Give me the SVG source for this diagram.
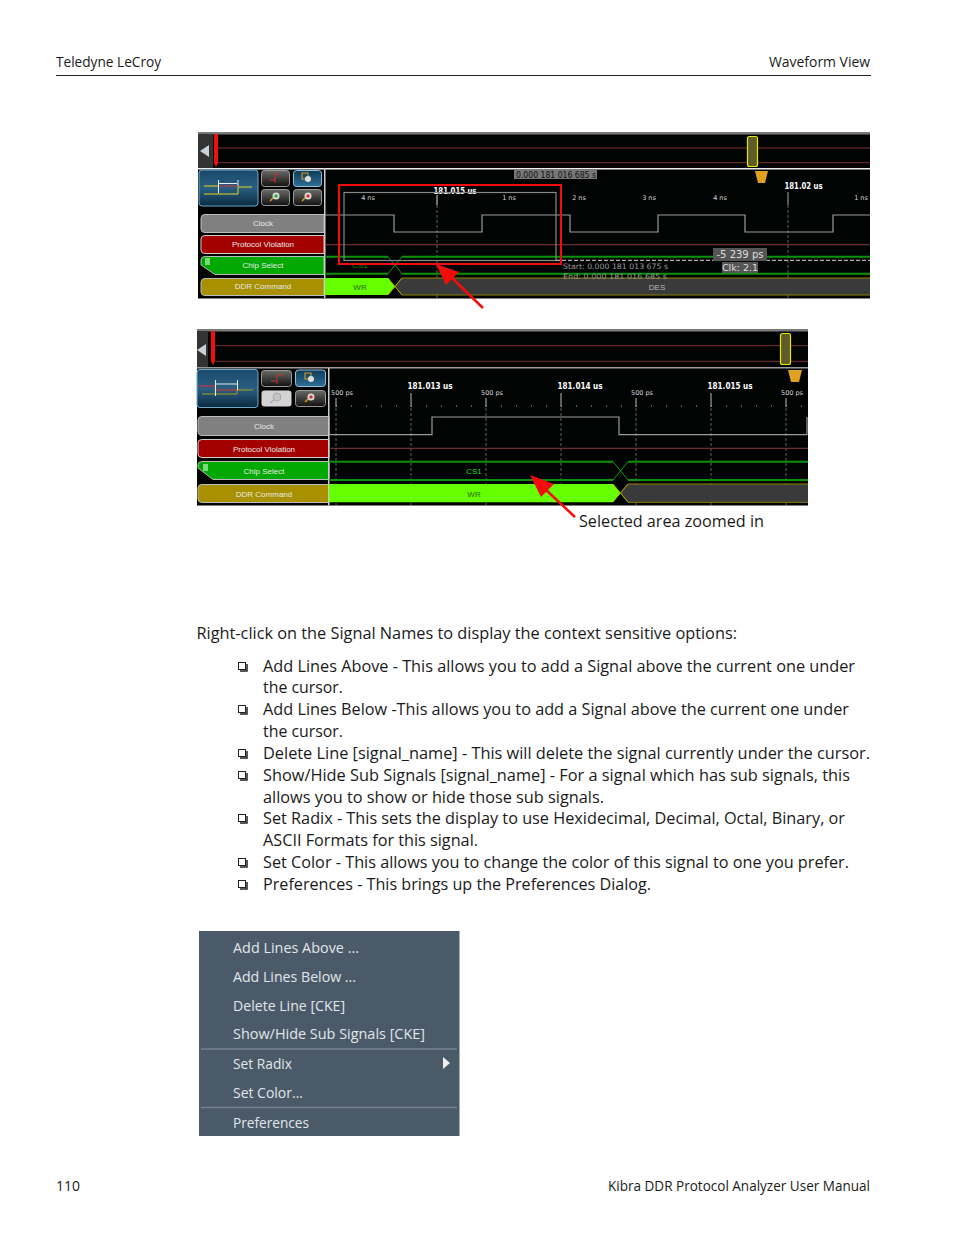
<svg xmlns="http://www.w3.org/2000/svg" width="954" height="1235" viewBox="0 0 954 1235">
<defs>
<linearGradient id="big" x1="0" y1="0" x2="0" y2="1"><stop offset="0" stop-color="#1a4a6c"/><stop offset="0.5" stop-color="#2a5f82"/><stop offset="1" stop-color="#0c2a40"/></linearGradient>
<linearGradient id="btn" x1="0" y1="0" x2="0" y2="1"><stop offset="0" stop-color="#6a6a66"/><stop offset="1" stop-color="#111"/></linearGradient>
<linearGradient id="btnb" x1="0" y1="0" x2="0" y2="1"><stop offset="0" stop-color="#0f3a58"/><stop offset="1" stop-color="#2f6f95"/></linearGradient>
</defs>
<style>
.b{font-family:"Open Sans","Liberation Sans",sans-serif;font-size:16px;fill:#1a1a1a}
.h{font-family:"Open Sans","Liberation Sans",sans-serif;font-size:14px;fill:#1a1a1a}
.m{font-family:"Open Sans","Liberation Sans",sans-serif;font-size:15px;fill:#e2e6ea}
.s{font-family:"DejaVu Sans",sans-serif;font-size:6.500px;fill:#d8d8d8;text-anchor:middle}
.t{font-family:"DejaVu Sans",sans-serif;font-size:8px;font-weight:bold;fill:#fff;text-anchor:middle}
.l{font-family:"Liberation Sans",sans-serif;font-size:8px;fill:#e8e8e8;text-anchor:middle}
.sq{fill:#fff;stroke:#222;stroke-width:1}
.sd{fill:none;stroke:#222;stroke-width:1.500}
.w{fill:none;stroke:#9a9a9a;stroke-width:1.200}
.g{fill:none;stroke:#0a920a;stroke-width:2}
.x{fill:none;stroke:#0cc00c;stroke-width:.8}
.pv{stroke:#8a3a3a;stroke-width:1}
.d{stroke:#777;stroke-width:.8;stroke-dasharray:3 2}
.tk{stroke:#bbb;stroke-width:1}
.arr{fill:#f40b0b}
.arl{stroke:#f40b0b;stroke-width:2.500}
</style>
<rect width="954" height="1235" fill="#fff"/>
<g id="header">
<text class="h" x="56" y="67" textLength="105" lengthAdjust="spacingAndGlyphs">Teledyne LeCroy</text>
<text class="h" x="769" y="67" textLength="101" lengthAdjust="spacingAndGlyphs">Waveform View</text>
<line x1="56" y1="75.500" x2="871" y2="75.500" stroke="#222"/>
</g>
<g id="screen1">
<rect x="198" y="132" width="672" height="166.500" fill="#020404"/>
<rect x="198" y="132" width="672" height="2.500" fill="#7a7a7a"/>
<rect x="198" y="134" width="15" height="34" fill="#333"/>
<polygon points="200,151 209,145 209,157" fill="#c8d0d8"/>
<line x1="217" y1="148" x2="870" y2="148" stroke="#7a3030"/>
<line x1="217" y1="162.700" x2="870" y2="162.700" stroke="#7a3030"/>
<polygon points="214,134 218,134 218,163 216,167 214,163" fill="#ee1111"/>
<rect x="198" y="168" width="672" height="1.500" fill="#eee"/>
<rect x="747.500" y="136.500" width="10" height="30" rx="2" fill="#5e5c28" stroke="#e8e800" stroke-width="1.200"/>
<polygon points="755,171 768,171 765,183 758,183" fill="#e0a020"/>
<rect x="199" y="170" width="59" height="36" rx="3" fill="url(#big)" stroke="#6fa8c8"/>
<path d="M204 186H218M238 187H252M204 194H238V187" fill="none" stroke="#e0d820" stroke-width="1"/>
<path d="M218 186H238" stroke="#d33" fill="none"/>
<path d="M219 183.500H237M218.500 180V193M238 180V186" stroke="#fff" fill="none" stroke-width=".9"/>
<rect x="261.500" y="170.500" width="28" height="16" rx="3" fill="url(#btn)" stroke="#999"/>
<path d="M270 180H275V174H280M275 180V183" stroke="#c33" fill="none"/>
<rect x="293.500" y="170.500" width="28" height="16" rx="3" fill="url(#btnb)" stroke="#8fc0dc"/>
<rect x="302" y="173" width="6" height="6" fill="none" stroke="#e0a020"/><circle cx="308" cy="179" r="3" fill="#ddd"/>
<rect x="261.500" y="189.500" width="28" height="16" rx="3" fill="url(#btn)" stroke="#999"/>
<circle cx="276" cy="196" r="3.500" fill="#ddd"/><circle cx="276" cy="196" r="1.800" fill="#3a3"/><line x1="270" y1="201" x2="273" y2="198" stroke="#e0a020" stroke-width="1.500"/>
<rect x="293.500" y="189.500" width="28" height="16" rx="3" fill="url(#btn)" stroke="#999"/>
<circle cx="308" cy="196" r="3.500" fill="#ddd"/><circle cx="308" cy="196" r="1.800" fill="#d33"/><line x1="302" y1="201" x2="305" y2="198" stroke="#e0a020" stroke-width="1.500"/>
<path d="M324 214.500H205Q201 214.500 201 218V229Q201 232.500 205 232.500H324Z" fill="#808080" stroke="#bbb"/>
<path d="M324 235.500H205Q201 235.500 201 239V250Q201 253.500 205 253.500H324Z" fill="#a40000" stroke="#ccc"/>
<path d="M324 256.500H205Q201 256.500 201 260V265L215 274.500H324Z" fill="#00a800" stroke="#bbb"/>
<rect x="205" y="258" width="5" height="7" fill="#7fd87f"/>
<path d="M324 278.500H205Q201 278.500 201 282V292Q201 295.500 205 295.500H324Z" fill="#a89000" stroke="#bbb"/>
<text class="l" x="263" y="226">Clock</text>
<text class="l" x="263" y="246.500">Protocol Violation</text>
<text class="l" x="263" y="267.500">Chip Select</text>
<text class="l" x="263" y="289">DDR Command</text>
<rect x="324" y="168" width="1.500" height="130" fill="#ccc"/>
<line class="d" x1="437" y1="205" x2="437" y2="298"/><line class="d" x1="788" y1="205" x2="788" y2="298"/>
<line x1="437" y1="195" x2="437" y2="205" stroke="#ddd"/><line x1="788" y1="192" x2="788" y2="205" stroke="#aaa"/>
<path class="w" d="M325 215H394V232H482V215H570V232H658V215H745V232H833V215H870"/>
<line class="pv" x1="325" y1="244.700" x2="870" y2="244.700"/>
<path class="g" d="M325 256.700H388M402 256.700H870M325 273.700H388M402 273.700H870"/>
<path class="x" d="M388 256.700L402 273.700M388 273.700L402 256.700"/>
<polygon points="325,278 388,278 395,286.500 388,295 325,295" fill="#66ff00"/>
<polygon points="870,278 402,278 395,286.500 402,295 870,295" fill="#3a3a3a"/>
<path d="M870 278H402L395 286.500L402 295H870" fill="none" stroke="#8c8200"/>
<path d="M388 278L402 295M388 295L402 278" stroke="#b8a800" stroke-width=".8" fill="none"/>
<text class="l" x="360" y="290" style="fill:#2a6a00">WR</text>
<text class="l" x="657" y="290" style="fill:#bbb">DES</text>
<text class="l" x="360" y="268" style="fill:#0a8a0a">CS1</text>
<rect x="514" y="170" width="83" height="9" fill="#777"/>
<text class="t" x="556" y="178" textLength="80" lengthAdjust="spacingAndGlyphs" style="fill:#111;font-weight:normal">0.000 181 016 685 s</text>
<text class="t" x="455" y="194" textLength="43" lengthAdjust="spacingAndGlyphs">181.015 us</text>
<text class="t" x="803.500" y="189" textLength="38" lengthAdjust="spacingAndGlyphs">181.02 us</text>
<text class="s" x="368" y="200">4 ns</text><text class="s" x="509" y="200">1 ns</text><text class="s" x="579" y="200">2 ns</text><text class="s" x="649" y="200">3 ns</text><text class="s" x="720" y="200">4 ns</text><text class="s" x="861" y="200">1 ns</text>
<rect x="344" y="192.500" width="212" height="68" fill="none" stroke="#888" stroke-width="1.200"/>
<line x1="556" y1="260.300" x2="870" y2="260.300" stroke="#ddd" stroke-dasharray="4 2"/>
<rect x="713" y="248" width="54" height="13" fill="#555"/>
<text x="740" y="258" style="font-family:'DejaVu Sans',sans-serif;font-size:10px;fill:#ddd;text-anchor:middle">-5 239 ps</text>
<rect x="722" y="262" width="36" height="11" fill="#555"/>
<text x="740" y="271" style="font-family:'DejaVu Sans',sans-serif;font-size:9.500px;fill:#ddd;text-anchor:middle">Clk: 2.1</text>
<text x="563" y="269" textLength="105" lengthAdjust="spacingAndGlyphs" style="font-family:'DejaVu Sans',sans-serif;font-size:7.500px;fill:#999">Start: 0.000 181 013 675 s</text>
<text x="563" y="279" textLength="104" lengthAdjust="spacingAndGlyphs" style="font-family:'DejaVu Sans',sans-serif;font-size:7.500px;fill:#999">End:  0.000 181 016 685 s</text>
<rect x="339" y="185" width="222" height="79" fill="none" stroke="#f40b0b" stroke-width="2"/>
<line class="arl" x1="483" y1="308" x2="452" y2="278"/>
<polygon class="arr" points="436,264 459,272 446,285"/>
</g>
<g id="screen2">
<rect x="197" y="329" width="611" height="176.500" fill="#020404"/>
<rect x="197" y="329" width="611" height="2.500" fill="#7a7a7a"/>
<rect x="197" y="331" width="11" height="36" fill="#333"/>
<polygon points="197,350 206,344 206,356" fill="#c8d0d8"/>
<line x1="215" y1="345.700" x2="808" y2="345.700" stroke="#7a3030"/>
<line x1="215" y1="361.300" x2="808" y2="361.300" stroke="#7a3030"/>
<polygon points="211,331 215,331 215,361 213,365 211,361" fill="#ee1111"/>
<rect x="197" y="367" width="611" height="1.500" fill="#999"/>
<rect x="780.500" y="333.500" width="10" height="31" rx="2" fill="#5e5c28" stroke="#e8e800" stroke-width="1.200"/>
<polygon points="788,370 802,370 799,382 791,382" fill="#e0a020"/>
<rect x="197" y="369.500" width="61" height="38" rx="3" fill="url(#big)" stroke="#6fa8c8"/>
<path d="M202 394H237V390H253" fill="none" stroke="#a8a020" stroke-width="1"/>
<path d="M198 386H215V390H237" fill="none" stroke="#d33"/>
<path d="M216 384H237M215.500 380V396M237.500 380V390" stroke="#fff" fill="none" stroke-width=".9"/>
<rect x="261.500" y="370.500" width="30" height="16" rx="3" fill="url(#btn)" stroke="#999"/>
<path d="M271 381H277V375H283M277 381V384" stroke="#c33" fill="none"/>
<rect x="295.500" y="370" width="30" height="16.500" rx="3" fill="url(#btnb)" stroke="#8fc0dc"/>
<rect x="305" y="373" width="6" height="6" fill="none" stroke="#e0a020"/><circle cx="311" cy="379" r="3" fill="#ddd"/>
<rect x="261.500" y="390.500" width="30" height="16" rx="3" fill="#d4d4d4"/>
<circle cx="277" cy="397" r="4" fill="#c4c4c4" stroke="#aaa"/><line x1="270" y1="403" x2="274" y2="400" stroke="#aaa" stroke-width="1.500"/>
<rect x="295.500" y="390.500" width="30" height="16" rx="3" fill="url(#btn)" stroke="#999"/>
<circle cx="311" cy="397" r="3.500" fill="#ddd"/><circle cx="311" cy="397" r="1.800" fill="#d33"/><line x1="305" y1="402" x2="308" y2="399" stroke="#e0a020" stroke-width="1.500"/>
<path d="M329 416.500H202Q198 416.500 198 420V431Q198 435.500 202 435.500H329Z" fill="#808080" stroke="#bbb"/>
<path d="M329 439.500H202Q198 439.500 198 443V454Q198 457.500 202 457.500H329Z" fill="#a40000" stroke="#ccc"/>
<path d="M329 461.500H202Q198 461.500 198 465V468L213 479.500H329Z" fill="#00a800" stroke="#bbb"/>
<rect x="203" y="464" width="5" height="7" fill="#7fd87f"/>
<path d="M329 484.500H202Q198 484.500 198 488V499Q198 502.500 202 502.500H329Z" fill="#a89000" stroke="#bbb"/>
<text class="l" x="264" y="428.500">Clock</text>
<text class="l" x="264" y="451.500">Protocol Violation</text>
<text class="l" x="264" y="473.500">Chip Select</text>
<text class="l" x="264" y="496.500">DDR Command</text>
<rect x="328" y="368" width="1.500" height="137.500" fill="#ccc"/>
<g class="d"><line x1="336" y1="408" x2="336" y2="505"/><line x1="411" y1="408" x2="411" y2="505"/><line x1="486" y1="408" x2="486" y2="505"/><line x1="561" y1="408" x2="561" y2="505"/><line x1="636" y1="408" x2="636" y2="505"/><line x1="711" y1="408" x2="711" y2="505"/><line x1="786" y1="408" x2="786" y2="505"/></g>
<g class="tk"><line x1="336" y1="398" x2="336" y2="407"/><line x1="411" y1="393" x2="411" y2="407"/><line x1="486" y1="398" x2="486" y2="407"/><line x1="561" y1="393" x2="561" y2="407"/><line x1="636" y1="398" x2="636" y2="407"/><line x1="711" y1="393" x2="711" y2="407"/><line x1="786" y1="398" x2="786" y2="407"/></g>
<line x1="336" y1="406" x2="808" y2="406" stroke="#aaa" stroke-width="1" stroke-dasharray="1 14"/>
<path class="w" d="M329 434.700H432V417H619V434.700H807V417"/>
<line class="pv" x1="329" y1="448.300" x2="808" y2="448.300"/>
<path class="g" d="M329 461.700H613M628 461.700H808M329 480H613M628 480H808"/>
<path class="x" d="M613 461.700L628 480M613 480L628 461.700"/>
<polygon points="329,484 613,484 620.500,493 613,502.300 329,502.300" fill="#66ff00"/>
<polygon points="808,484 628,484 620.500,493 628,502.300 808,502.300" fill="#3a3a3a"/>
<path d="M808 484H628L620.500 493L628 502.300H808" fill="none" stroke="#8c8200"/>
<path d="M613 484L628 502M613 502L628 484" stroke="#b8a800" stroke-width=".8" fill="none"/>
<text class="l" x="474" y="497" style="fill:#2a6a00">WR</text>
<text class="l" x="474" y="474" style="fill:#22dd22">CS1</text>
<text class="t" x="430" y="389" textLength="45" lengthAdjust="spacingAndGlyphs">181.013 us</text><text class="t" x="580" y="389" textLength="45" lengthAdjust="spacingAndGlyphs">181.014 us</text><text class="t" x="730" y="389" textLength="45" lengthAdjust="spacingAndGlyphs">181.015 us</text>
<text class="s" x="342" y="395">500 ps</text><text class="s" x="492" y="395">500 ps</text><text class="s" x="642" y="395">500 ps</text><text class="s" x="792" y="395">500 ps</text>
<line class="arl" x1="575" y1="517" x2="545" y2="489"/>
<polygon class="arr" points="530,475 554,484 541,497"/>
<text class="b" x="579" y="527" textLength="185" lengthAdjust="spacingAndGlyphs">Selected area zoomed in</text>
</g>
<g id="body">
<text class="b" x="196.500" y="639" textLength="540.500" lengthAdjust="spacingAndGlyphs">Right-click on the Signal Names to display the context sensitive options:</text>
<g>
<rect class="sq" x="238.500" y="662.500" width="7" height="7"/><path class="sd" d="M247 664V671H240"/>
<rect class="sq" x="238.500" y="705.500" width="7" height="7"/><path class="sd" d="M247 707V714H240"/>
<rect class="sq" x="238.500" y="749.500" width="7" height="7"/><path class="sd" d="M247 751V758H240"/>
<rect class="sq" x="238.500" y="771.500" width="7" height="7"/><path class="sd" d="M247 773V780H240"/>
<rect class="sq" x="238.500" y="814.500" width="7" height="7"/><path class="sd" d="M247 816V823H240"/>
<rect class="sq" x="238.500" y="858.500" width="7" height="7"/><path class="sd" d="M247 860V867H240"/>
<rect class="sq" x="238.500" y="880.500" width="7" height="7"/><path class="sd" d="M247 882V889H240"/>
</g>
<text class="b" x="263" y="672" textLength="592" lengthAdjust="spacingAndGlyphs">Add Lines Above - This allows you to add a Signal above the current one under</text>
<text class="b" x="263" y="693" textLength="80" lengthAdjust="spacingAndGlyphs">the cursor.</text>
<text class="b" x="263" y="715" textLength="586" lengthAdjust="spacingAndGlyphs">Add Lines Below -This allows you to add a Signal above the current one under</text>
<text class="b" x="263" y="737" textLength="80" lengthAdjust="spacingAndGlyphs">the cursor.</text>
<text class="b" x="263" y="759" textLength="607" lengthAdjust="spacingAndGlyphs">Delete Line [signal_name] - This will delete the signal currently under the cursor.</text>
<text class="b" x="263" y="781" textLength="587" lengthAdjust="spacingAndGlyphs">Show/Hide Sub Signals [signal_name] - For a signal which has sub signals, this</text>
<text class="b" x="263" y="803" textLength="341" lengthAdjust="spacingAndGlyphs">allows you to show or hide those sub signals.</text>
<text class="b" x="263" y="824" textLength="582" lengthAdjust="spacingAndGlyphs">Set Radix - This sets the display to use Hexidecimal, Decimal, Octal, Binary, or</text>
<text class="b" x="263" y="846" textLength="215" lengthAdjust="spacingAndGlyphs">ASCII Formats for this signal.</text>
<text class="b" x="263" y="868" textLength="586" lengthAdjust="spacingAndGlyphs">Set Color - This allows you to change the color of this signal to one you prefer.</text>
<text class="b" x="263" y="890" textLength="388" lengthAdjust="spacingAndGlyphs">Preferences - This brings up the Preferences Dialog.</text>
</g>
<g id="menu">
<rect x="199" y="931" width="260.500" height="205" fill="#4a5a69"/>
<text class="m" x="233" y="953" textLength="126" lengthAdjust="spacingAndGlyphs">Add Lines Above ...</text>
<text class="m" x="233" y="982" textLength="123" lengthAdjust="spacingAndGlyphs">Add Lines Below ...</text>
<text class="m" x="233" y="1010.500" textLength="112" lengthAdjust="spacingAndGlyphs">Delete Line [CKE]</text>
<text class="m" x="233" y="1039" textLength="192" lengthAdjust="spacingAndGlyphs">Show/Hide Sub Signals [CKE]</text>
<line x1="201" y1="1049" x2="457" y2="1049" stroke="#77828d" stroke-width="1.500"/>
<text class="m" x="233" y="1069" textLength="59" lengthAdjust="spacingAndGlyphs">Set Radix</text>
<polygon points="443,1057 450,1063 443,1069" fill="#f0f0f0"/>
<text class="m" x="233" y="1098" textLength="70" lengthAdjust="spacingAndGlyphs">Set Color...</text>
<line x1="201" y1="1107.500" x2="457" y2="1107.500" stroke="#77828d" stroke-width="1.500"/>
<text class="m" x="233" y="1128" textLength="76" lengthAdjust="spacingAndGlyphs">Preferences</text>
</g>
<g id="footer">
<text class="h" x="56" y="1191" textLength="24" lengthAdjust="spacingAndGlyphs">110</text>
<text class="h" x="608" y="1191" textLength="262" lengthAdjust="spacingAndGlyphs">Kibra DDR Protocol Analyzer User Manual</text>
</g>
</svg>
